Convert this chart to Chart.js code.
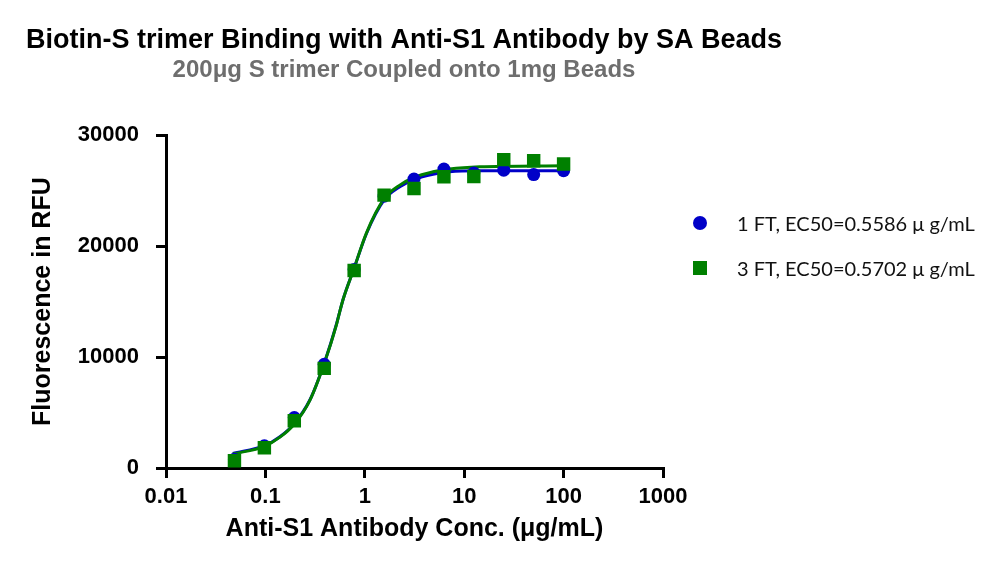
<!DOCTYPE html>
<html>
<head>
<meta charset="utf-8">
<script src="https://cdn.jsdelivr.net/npm/chart.js@4.4.1/dist/chart.umd.min.js"></script>
<style>
  body { margin: 0; background: #fff; }
  #wrap { position: relative; width: 1000px; height: 569px; }
  .key { position: absolute; left: 693px; height: 24px; display: flex; align-items: center;
         font-family: Lato, "Open Sans", sans-serif; font-size: 20px; color: #111; white-space: nowrap; }
  .mark { width: 14px; height: 14px; margin-right: 30px; }
</style>
</head>
<body>
<div id="wrap">
  <canvas id="chart" width="1000" height="569"></canvas>
  <div id="legend"></div>
</div>
<script>
document.addEventListener("DOMContentLoaded", function () {
    // Antibody dilution series (ug/mL)
    const concentrations = [100, 50, 25, 12.5, 6.25, 3.125, 1.5625, 0.78125, 0.390625, 0.1953125, 0.09765625, 0.048828125];
    const ft1Values = [26800, 26450, 26850, 26600, 26950, 26050, 24500, 17900, 9350, 4550, 2000, 800];
    const ft3Values = [27400, 27700, 27800, 26280, 26250, 25200, 24600, 17800, 8980, 4260, 1830, 660];

    // fitted curves
    const fitConc = [0.047, 0.0977, 0.14, 0.195, 0.28, 0.39, 0.52, 0.56, 0.61, 0.78, 1.04, 1.56, 2.25, 3.125, 4.86, 7.1, 14.3, 100];
    const ft1Fit = [1300, 2010, 2820, 4000, 6130, 9430, 13000, 14100, 15300, 17990, 21140, 24140, 25350, 26000, 26480, 26700, 26790, 26800];
    const ft3Fit = [1260, 1950, 2780, 3950, 6100, 9400, 12950, 14100, 15300, 18000, 21200, 24250, 25500, 26200, 26700, 26950, 27150, 27250];

    const xTickValues = [0.01, 0.1, 1, 10, 100, 1000];
    const yTickValues = [0, 10000, 20000, 30000];
    const seriesLabels = ["1 FT, EC50=0.5586 \u03bc g/mL", "3 FT, EC50=0.5702 \u03bc g/mL"];
    const seriesColors = ["#0000c8", "#008000"];

    const FONT = '"Liberation Sans", Arial, sans-serif';
    const toPoints = (xs, ys) => xs.map((x, i) => ({ x: x, y: ys[i] }));

    // legend as plain html
    const legend = document.getElementById("legend");
    [223, 268].forEach((cy, i) => {
        const row = document.createElement("div");
        row.className = "key";
        row.style.top = (cy - 12) + "px";
        const mark = document.createElement("span");
        mark.className = "mark";
        mark.style.background = seriesColors[i];
        if (i === 0) mark.style.borderRadius = "50%";
        row.appendChild(mark);
        row.appendChild(document.createTextNode(seriesLabels[i]));
        legend.appendChild(row);
    });

    const axisGrid = { drawOnChartArea: false, drawTicks: true, tickLength: 10, tickWidth: 3, tickColor: "#000", color: "#000", lineWidth: 3 };

    new Chart(document.getElementById("chart").getContext("2d"), {
        type: "scatter",
        data: {
            datasets: [
                {
                    label: seriesLabels[1],
                    data: toPoints(concentrations, ft3Values),
                    pointStyle: "rect",
                    pointRadius: 9.5,
                    backgroundColor: seriesColors[1],
                    borderWidth: 0,
                    order: 1
                },
                {
                    label: seriesLabels[0],
                    data: toPoints(concentrations, ft1Values),
                    pointStyle: "circle",
                    pointRadius: 6.5,
                    backgroundColor: seriesColors[0],
                    borderWidth: 0,
                    order: 2
                },
                {
                    label: "3 FT fit",
                    data: toPoints(fitConc, ft3Fit),
                    showLine: true,
                    pointRadius: 0,
                    borderColor: seriesColors[1],
                    borderWidth: 3,
                    cubicInterpolationMode: "monotone",
                    order: 3
                },
                {
                    label: "1 FT fit",
                    data: toPoints(fitConc, ft1Fit),
                    showLine: true,
                    pointRadius: 0,
                    borderColor: seriesColors[0],
                    borderWidth: 3,
                    cubicInterpolationMode: "monotone",
                    order: 4
                }
            ]
        },
        options: {
            responsive: false,
            animation: false,
            layout: { padding: { left: 10, right: 202, top: 0, bottom: 10 } },
            plugins: {
                legend: { display: false },
                tooltip: { enabled: false },
                title: {
                    display: true,
                    text: "Biotin-S trimer Binding with Anti-S1 Antibody by SA Beads",
                    color: "#000",
                    font: { family: FONT, size: 27, weight: "bold" },
                    padding: { top: 24, bottom: 0 }
                },
                subtitle: {
                    display: true,
                    text: "200\u03bcg S trimer Coupled onto 1mg Beads",
                    color: "#6e6e6e",
                    font: { family: FONT, size: 24, weight: "bold" },
                    padding: { top: 0, bottom: 50 }
                }
            },
            scales: {
                x: {
                    type: "logarithmic",
                    min: 0.01,
                    max: 1000,
                    afterBuildTicks: (s) => { s.ticks = xTickValues.map(v => ({ value: v })); },
                    afterFit: (s) => { s.height = 91; s.paddingRight = 337; },
                    ticks: {
                        callback: (v) => String(v),
                        color: "#000",
                        font: { family: FONT, size: 22, weight: "bold" },
                        padding: 6,
                        maxRotation: 0,
                        autoSkip: false
                    },
                    grid: axisGrid,
                    border: { color: "#000", width: 3 },
                    title: {
                        display: true,
                        text: "Anti-S1 Antibody Conc. (\u03bcg/mL)",
                        color: "#000",
                        font: { family: FONT, size: 25, weight: "bold" },
                        padding: { top: 0, bottom: 15 }
                    }
                },
                y: {
                    min: 0,
                    max: 30000,
                    afterBuildTicks: (s) => { s.ticks = yTickValues.map(v => ({ value: v })); },
                    afterFit: (s) => { s.width = 156; },
                    ticks: {
                        callback: (v) => String(v),
                        color: "#000",
                        font: { family: FONT, size: 22, weight: "bold" },
                        padding: 17
                    },
                    grid: axisGrid,
                    border: { color: "#000", width: 3 },
                    title: {
                        display: true,
                        text: "Fluorescence in RFU",
                        color: "#000",
                        font: { family: FONT, size: 25, weight: "bold" },
                        padding: { top: 18, bottom: 0 }
                    }
                }
            }
        }
    });
});
</script>
</body>
</html>
